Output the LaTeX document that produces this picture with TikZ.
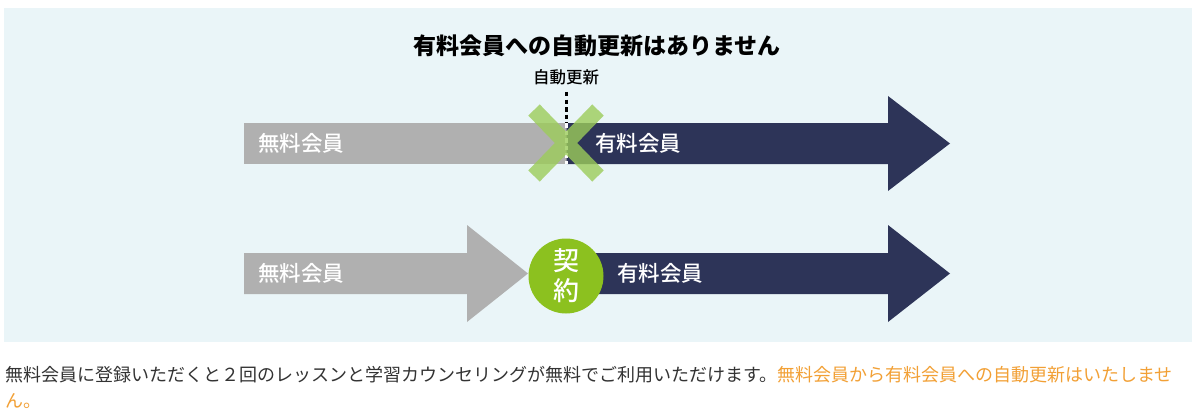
\documentclass[tikz,border=0pt]{standalone}
\usepackage{fontspec}
\setmainfont{Noto Sans CJK JP}
\newfontfamily\jpmedium{Noto Sans CJK JP Medium}
\definecolor{panelbg}{HTML}{EAF5F8}
\definecolor{freegray}{HTML}{B0B0B0}
\definecolor{paidnavy}{HTML}{2D3458}
\definecolor{contractgreen}{HTML}{8CC11F}
\definecolor{crossgreen}{HTML}{9CCC5A}
\definecolor{bodytext}{HTML}{333333}
\definecolor{noteorange}{HTML}{F2A035}
\tikzset{
  barlabel/.style={text=white, inner sep=0pt, anchor=west, font=\jpmedium\fontsize{21.5}{24}\selectfont},
  bodyline/.style={inner sep=0pt, anchor=west, font=\fontsize{18}{20}\selectfont},
}
\begin{document}
\begin{tikzpicture}[x=1pt, y=-1pt]
\useasboundingbox (0,0) rectangle (1200,420);
\fill[white] (0,0) rectangle (1200,420);
\fill[panelbg] (4,8) rectangle (1192,342);

% title
\node[font=\fontsize{23}{26}\selectfont\bfseries, text=black, inner sep=0pt] (title) at (597,46) {有料会員への自動更新はありません};

% top row
\fill[freegray] (244,123) rectangle (566.5,164);
\fill[paidnavy] (566.5,123) -- (888,123) -- (888,96) -- (950,143.5) -- (888,191) -- (888,164) -- (566.5,164) -- cycle;
\node[font=\jpmedium\fontsize{16.5}{18}\selectfont, text=black, inner sep=0pt] (renew) at (566,77) {自動更新};
\coordinate (dashtop) at (566.5,92);
\coordinate (dashmid) at (566.5,123);
\coordinate (dashbot) at (566.5,164);
\draw[black, line width=2.6pt, dash pattern=on 4.5pt off 3pt] (dashtop) -- (dashmid);
\draw[white, line width=2.6pt, dash pattern=on 4.5pt off 3pt] (dashmid) -- (dashbot);
\node[barlabel] (freetop) at (258,143.5) {無料会員};
\node[barlabel] (paidtop) at (595,143.5) {有料会員};
\coordinate (xa) at (534,110);
\coordinate (xb) at (598,176);
\coordinate (xc) at (598,110);
\coordinate (xd) at (534,176);
\begin{scope}[transparency group, opacity=0.8]
\draw[draw=crossgreen, line width=16pt, line cap=butt] (xa) -- (xb);
\draw[draw=crossgreen, line width=16pt, line cap=butt] (xc) -- (xd);
\end{scope}

% bottom row
\fill[paidnavy] (566,253) -- (888,253) -- (888,225) -- (950,273.5) -- (888,322) -- (888,294) -- (566,294) -- cycle;
\fill[freegray] (244,253) -- (467,253) -- (467,225) -- (528,273.5) -- (467,322) -- (467,294) -- (244,294) -- cycle;
\node[circle, fill=contractgreen, minimum size=75pt, inner sep=0pt] (contract) at (566,276) {};
\node[text=white, align=center, inner sep=0pt, font=\jpmedium\fontsize{26}{30}\selectfont] (contracttext) at (contract.center) {契\\約};
\node[barlabel] (freebot) at (258,273.5) {無料会員};
\node[barlabel] (paidbot) at (617,273.5) {有料会員};

% caption text
\node[bodyline] (line1) at (5,375) {\textcolor{bodytext}{無料会員に登録いただくと２回のレッスンと学習カウンセリングが無料でご利用いただけます。}\textcolor{noteorange}{無料会員から有料会員への自動更新はいたしませ}};
\node[bodyline, text=noteorange] (line2) at (5,401) {ん。};
\end{tikzpicture}
\end{document}
